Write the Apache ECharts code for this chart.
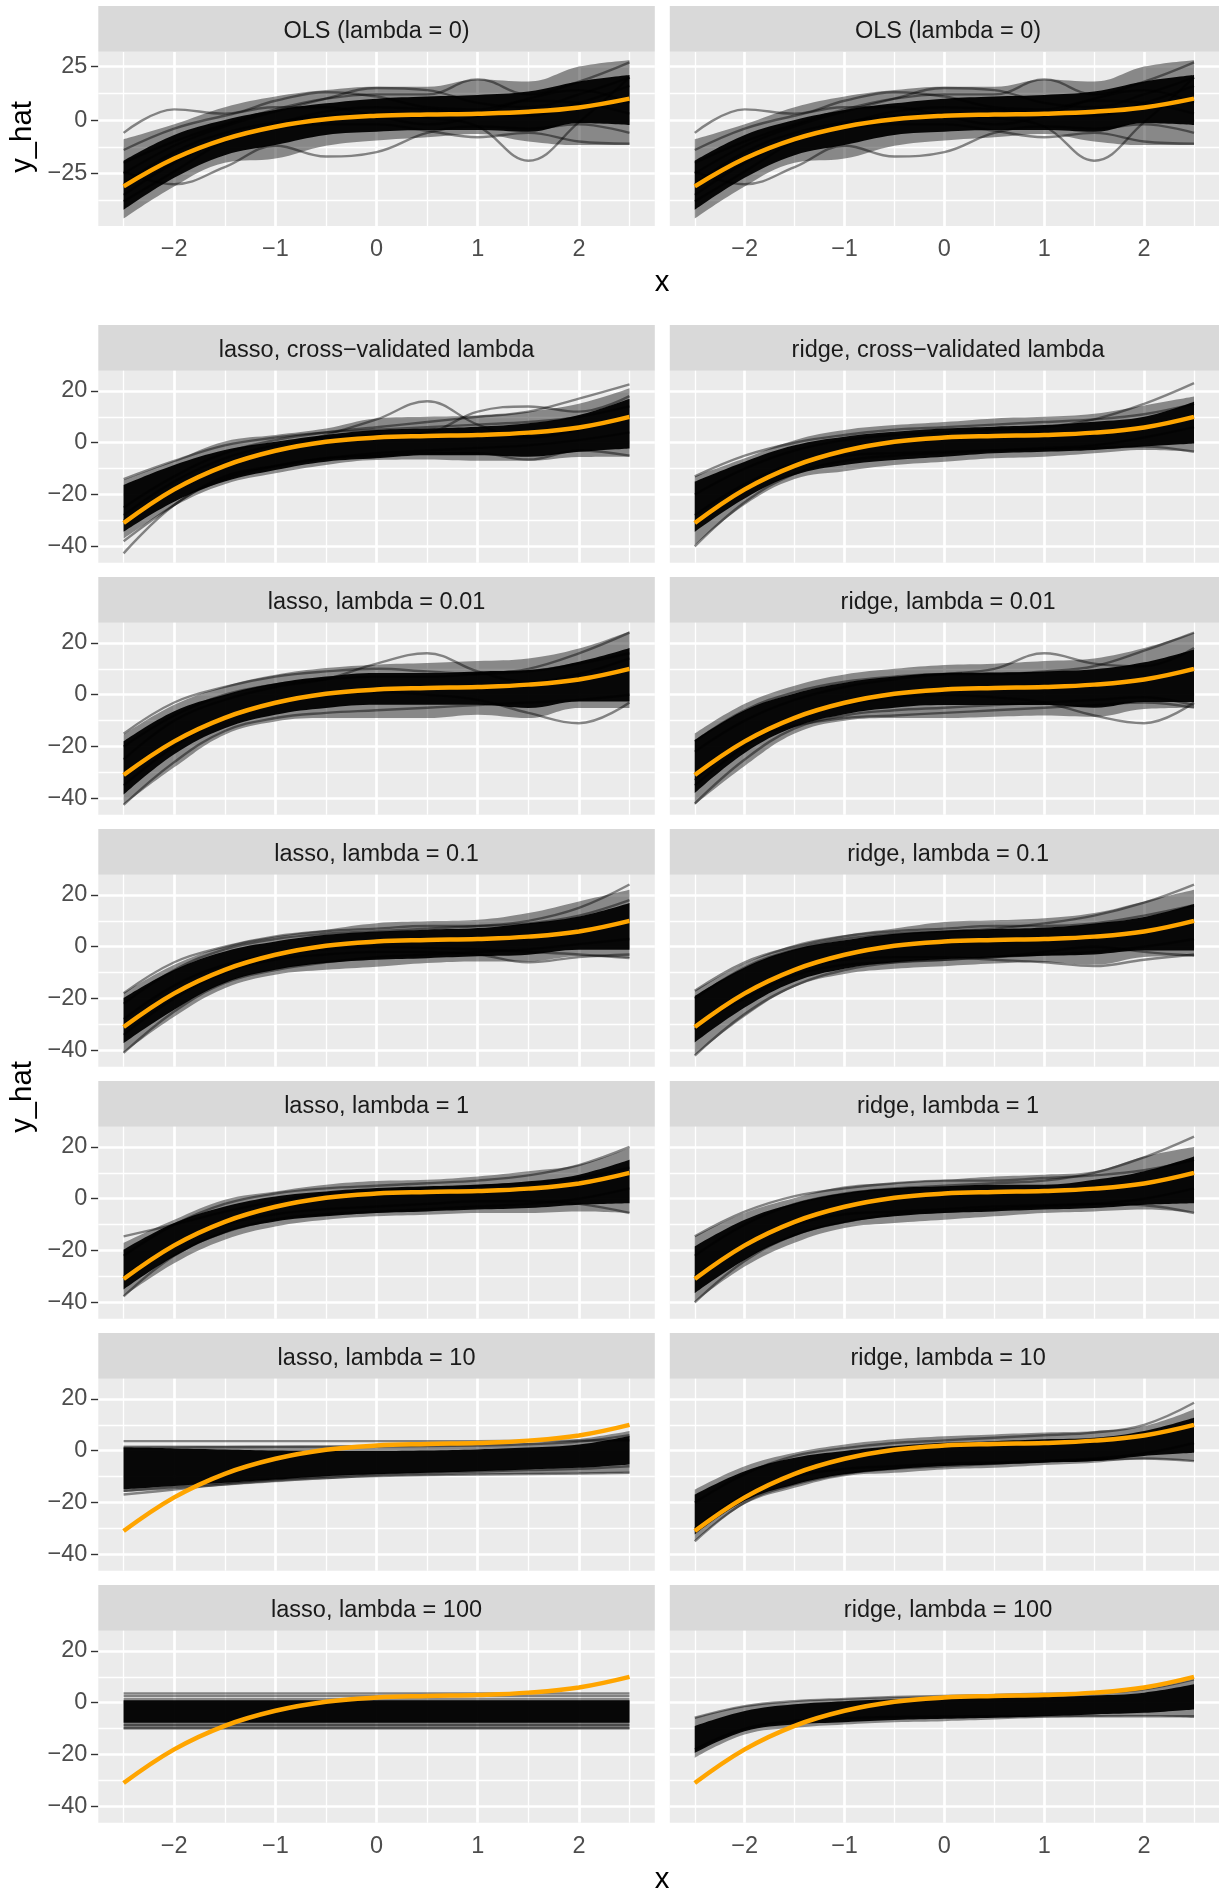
<!DOCTYPE html>
<html>
<head>
<meta charset="utf-8">
<title>y_hat by penalty</title>
<script src="https://cdn.jsdelivr.net/npm/echarts@6/dist/echarts.min.js"></script>
<style>
  html, body { margin: 0; padding: 0; background: #fff; }
  #main { width: 1219px; height: 1891px; }
</style>
</head>
<body>
<div id="main"></div>
<script>
const xs = [-2.5, -2, -1.5, -1, -0.5, 0, 0.5, 1, 1.5, 2, 2.5];
// true function (orange), same in every panel
const truth = [-31, -18, -8.9, -3.1, 0.4, 2, 2.6, 3, 3.9, 5.9, 10];

// tick labels
const topTicks = [-25, 0, 25];
const topMinor = [-37.5, -12.5, 12.5];
const rowTicks = [-40, -20, 0, 20];
const rowMinor = [-30, -10, 10];

// bands are [low, high] at each x; core = solid black, outer = grey halo
// lines = single fitted curves standing out of the band
const olsCore = [[-42,-19],[-27,-7],[-16.4,0],[-11.7,4.7],[-7,7.8],[-5.5,10],[-4.7,11],[-4.7,11.7],[-5.5,13.3],[-1.5,18],[-2.3,21]];
const olsOuter = [[-46,-9],[-31,-2],[-20,6],[-18,11],[-12,14],[-9.5,15.6],[-8,15.6],[-6.5,19],[-10,18],[-11.7,25],[-11.7,28]];
const olsLines = [
  [-30, -15, -6, -1, 2, 3, 1, -3, -19, -1, 20],
  [-24, -30, -22, -12, -17, -15, -6, -3, -4, -2, -6],
  [-6, 5, 3, 9, 13, 11, 6, 5, 9, 8, 3],
  [-20, -10, -2, 5, 10, 12, 12, 19, 12, 18, 27],
  [-35, -20, -9, -4, -2, -2, -5, -8, -6, -10, -11],
  [-25, -12, -3, 4, 10, 15, 14, 8, 6, 12, 20],
  [-38, -24, -10, -2, 4, 6, 5, 3, 2, 8, 16],
  [-14, -4, 2, 6, 6, 2, -2, 2, 10, 14, 8]
];

const lassoCvCore = [[-34.4,-16.3],[-22.8,-8.6],[-15,-2.8],[-10.5,0.4],[-7.3,3],[-6,4.9],[-4.8,5.5],[-4.8,6.2],[-5.4,7.5],[-3.5,10.7],[-2.2,17]];
const lassoCvOuter = [[-37,-14.4],[-24.5,-7],[-16,0.5],[-11.8,3],[-8.6,5.5],[-6.7,9.4],[-6.5,10],[-7,10.5],[-7,12],[-5.5,15],[-5.4,21]];
const lassoCvLines = [
  [-30, -18, -8, -3, 3, 9, 16, 7, 2, 5, 10],
  [-25, -13, -4, 1, 4, 6, 8, 10, 12, 17, 22.5],
  [-38, -24, -13, -9, -6, -5, -4, -4, -6.5, -3, -5],
  [-42.7, -24, -14, -9, -6, -4, -3, -2, -1, 1, 4],
  [-14, -7, -1, 2, 4, 5, 6, 7, 8, 10, 14],
  [-28, -15, -6, -1, 2, 3, 4, 12, 14, 12, 18]
];

const ridgeCvCore = [[-34.4,-15],[-21.5,-7.3],[-12.5,-1],[-8.6,2.3],[-6.7,4.2],[-5.4,5.5],[-4.1,6.2],[-3.5,6.8],[-2.8,8.1],[-1.5,10],[-0.3,15.8]];
const ridgeCvOuter = [[-39.5,-13],[-24,-6],[-14,1],[-11,4.9],[-8.6,6.8],[-7.3,8],[-6,9.4],[-5.4,10],[-4.1,11.2],[-2.8,14.4],[-3.5,17.8]];
const ridgeCvLines = [
  [-20, -10, -3, 1, 3, 4, 5, 6, 9, 15, 23],
  [-28, -16, -8, -5, -4, -3.5, -3, -2.5, -2, -1.5, -3.5],
  [-40, -23, -12, -7, -5, -4, -3, -2, -1, 2, 6],
  [-13, -5, 0, 3, 5, 6, 7, 8, 9, 11, 15]
];

const lasso001Core = [[-38.6,-18],[-23,-6.4],[-12.9,0],[-7.7,4.4],[-5.1,7],[-3.9,8.4],[-3.9,8.4],[-3.9,9],[-5.1,9.5],[-2.6,12.7],[-2.6,18]];
const lasso001Outer = [[-42.5,-15.4],[-28,-3.9],[-15.4,3.2],[-10.3,7.7],[-9,10.3],[-9,11.6],[-9,12.2],[-7.7,13],[-9,14],[-5.1,17.8],[-5.1,24.5]];
const lasso001Lines = [
  [-25, -10, -2, 3, 6, 12, 16, 9, 5, 8, 14],
  [-35, -20, -9, -3, 0, 1, 0, -2, -7, -11, -3],
  [-20, -8, 0, 4, 6, 7, 7, 8, 10, 16, 24],
  [-42.5, -26, -14, -9, -7, -6, -5, -4, -3, -2, 0],
  [-15, -3, 3, 7, 9, 10, 9, 8, 9, 12, 16]
];

const ridge001Core = [[-38,-17.5],[-22.5,-6],[-12.5,0.5],[-7.5,4.6],[-5,7],[-4,8.4],[-4,8.6],[-4,9],[-5,9.8],[-2.8,12.5],[-2.8,17.5]];
const ridge001Outer = [[-42.5,-15],[-27.5,-3.5],[-15,3.5],[-10,7.8],[-9,10],[-9,11.5],[-8.5,12],[-8,13],[-8.5,14],[-5.5,18],[-5,24]];
const ridge001Lines = [
  [-22, -10, -2, 3, 6, 8, 10, 16, 12, 11, 18],
  [-35, -20, -9, -4, -1, 0, -1, -3, -8, -11, -3],
  [-18, -6, 1, 5, 7, 8, 8, 9, 11, 17, 24],
  [-42, -25, -13, -8, -6, -5, -4, -3, -2, -1, -4],
  [-33, -18, -12, -9, -8, -7, -6, -5, -4, -3, -5]
];

const lasso01Core = [[-37.2,-19.8],[-24.3,-8.9],[-14,-1.8],[-8.9,2],[-6.3,4.6],[-5,5.9],[-4.4,6.6],[-3.7,7.2],[-3.1,9.1],[-1.2,11.7],[-1.2,16.9]];
const lasso01Outer = [[-41,-17.9],[-27,-7],[-16,0.1],[-10.8,4],[-8.9,6.6],[-7.7,9.1],[-6.3,9.8],[-5.7,10.4],[-5.7,13],[-3.7,17.5],[-4.4,22]];
const lasso01Lines = [
  [-22, -9, -1, 3, 5, 6, 7, 8, 10, 15, 24],
  [-34, -20, -10, -5, -3, -2, -2, -3, -6, -4, -3],
  [-41, -25, -14, -9, -6, -4, -3, -2, -1, 1, 3],
  [-28, -15, -7, -3, -1, 0, -0.5, -1, -2, -3, -4.4],
  [-17.9, -6, 0, 4, 6, 7, 8, 8, 9, 12, 18]
];

const ridge01Core = [[-37,-19],[-23.5,-8],[-13.5,-1],[-8.5,2.5],[-6,5],[-4.8,6.2],[-4.2,6.8],[-3.5,7.4],[-3,9],[-1.5,11.5],[-1.5,16.5]];
const ridge01Outer = [[-42,-17],[-27,-6.5],[-15.5,0.8],[-10.5,4.5],[-8.5,7],[-7.5,9.5],[-6.5,10.2],[-6,11],[-7,13],[-4,17.5],[-3.5,22]];
const ridge01Lines = [
  [-20, -8, -1, 3, 5, 6, 7, 9, 12, 17, 24],
  [-32, -18, -9, -5, -4, -4, -5, -6, -7.5, -5, -3],
  [-42, -26, -15, -9, -6, -5, -4, -3, -2, 0, 3],
  [-17, -6, 0, 4, 6, 7, 8, 8, 9, 12, 16],
  [-30, -20, -11, -7, -6, -5, -4, -2, 0, -2, -3.5]
];

const lasso1Core = [[-35,-19.7],[-22.3,-9.4],[-13.3,-3],[-8.8,0.9],[-6.8,2.8],[-5.5,4.1],[-4.9,4.8],[-4.2,5.4],[-3.6,6.7],[-2.3,9.3],[-1.7,15]];
const lasso1Outer = [[-37.7,-17],[-24.9,-8.1],[-15.8,-0.4],[-10.7,2.8],[-8.1,5.4],[-6.8,6.8],[-6.2,7.3],[-5.5,8.6],[-5.5,10.6],[-4.9,13.1],[-5.5,19.6]];
const lasso1Lines = [
  [-14.5, -10, -5, -1, 2, 3, 4, 5, 6, 8, 12],
  [-22, -10, -2, 2, 4, 5, 6, 7, 9, 13, 20],
  [-30, -18, -10, -6, -4, -3, -2, -1, -1, -2, -5.5],
  [-37.7, -22, -13, -8, -6, -5, -4, -3, -2, 0, 4]
];

const ridge1Core = [[-36.4,-18.4],[-23.6,-8.1],[-14.5,-1.7],[-9.4,2.2],[-6.8,4.1],[-5.5,4.8],[-4.9,5.4],[-4.2,5.4],[-3.6,7.3],[-2.3,10.6],[-1.7,16.3]];
const ridge1Outer = [[-40,-14.5],[-26.2,-5.5],[-17,0.3],[-11.3,4.8],[-9.4,6.2],[-8.1,7.3],[-6.8,8.6],[-5.5,9.3],[-4.9,10.6],[-4.2,16.3],[-5.5,20]];
const ridge1Lines = [
  [-22, -10, -2, 2, 4, 5, 6, 7, 10, 16, 24],
  [-30, -18, -10, -6, -5, -4, -3, -2.5, -2, -2.5, -5.5],
  [-40, -24, -14, -9, -6, -5, -4, -3, -2, 0, 4],
  [-14.5, -5, 1, 4, 6, 7, 7, 8, 9, 11, 15]
];

const lasso10Core = [[-14.9,1.2],[-13.6,0.9],[-12.4,0.5],[-11.1,0.1],[-9.8,-0.1],[-9.1,-0.1],[-8.5,0.1],[-7.9,0.5],[-7.2,1.2],[-6.6,2.4],[-5.3,5.7]];
const lasso10Outer = [[-16,2],[-14.8,2],[-13.5,2],[-12.2,2],[-11,2],[-10,2],[-9.6,2.2],[-9.2,2.5],[-9,3],[-8.8,4.5],[-8.5,7.6]];
const lasso10Lines = [
  [3.7, 3.7, 3.7, 3.7, 3.7, 3.7, 3.7, 3.7, 3.8, 3.9, 4],
  [-16.9, -15, -13, -11.5, -10.5, -9.8, -9.4, -9.2, -9, -8.8, -8.5],
  [-15.5, -14, -12.5, -11, -10, -9, -8.5, -8, -7.5, -7, -6],
  [1.2, 1.3, 1.4, 1.5, 1.6, 1.7, 1.8, 2, 2.5, 3.5, 6]
];

const ridge10Core = [[-32.3,-16.9],[-19.4,-7.9],[-13,-2.7],[-9.1,-0.1],[-7.2,1.8],[-5.9,3.1],[-5.3,3.7],[-4.6,4.4],[-4,5],[-2,7.6],[-0.8,12.7]];
const ridge10Outer = [[-34.9,-15],[-20.7,-6],[-14.3,-0.8],[-9.8,2.4],[-8.5,4.4],[-7.2,5.6],[-6.6,6.3],[-5.5,7],[-4.6,7.6],[-3.3,9.5],[-4,16]];
const ridge10Lines = [
  [-20, -9, -2, 1, 3, 4, 5, 6, 7, 10, 18.5],
  [-30, -17, -10, -7, -6, -5, -4.5, -4, -3.5, -3, -4],
  [-35, -20, -13, -9, -7, -6, -5, -4, -3, -1, 3]
];

// lasso, lambda = 100: intercept-only fits, every curve is flat
const lasso100Core = [-7.7, 1.0];
const lasso100Outer = [-10.3, 1.8];
const lasso100Levels = [3.6, 2.6, -8.6, -9.8];

const ridge100Core = [[-19.4,-9],[-11,-3.2],[-8.4,-0.6],[-7.5,0.6],[-6.7,1.3],[-6.2,1.7],[-5.8,1.9],[-5.2,2.3],[-4.5,2.8],[-3.9,3.9],[-2.6,7.1]];
const ridge100Outer = [[-21.3,-5.8],[-12.3,-1.3],[-9.7,0.6],[-8.4,1.5],[-7.5,2.2],[-7.1,2.6],[-6.5,3],[-5.8,3.5],[-5.4,3.9],[-5.2,5.2],[-5.8,9]];
const ridge100Lines = [
  [-18, -10, -7, -6, -5.5, -5.3, -5.2, -5.2, -5.2, -5.2, -5.2],
  [-5.8, -1.3, 0.6, 1.5, 2.2, 2.6, 3, 3.5, 3.9, 5.2, 9]
];

const flatBand = b => xs.map(() => b);
const flatLines = levels => levels.map(v => xs.map(() => v));

const panels = [
  { title: 'OLS (lambda = 0)', core: olsCore, outer: olsOuter, lines: olsLines, row: 0, col: 0 },
  { title: 'OLS (lambda = 0)', core: olsCore, outer: olsOuter, lines: olsLines, row: 0, col: 1 },
  { title: 'lasso, cross\u2212validated lambda', core: lassoCvCore, outer: lassoCvOuter, lines: lassoCvLines, row: 1, col: 0 },
  { title: 'ridge, cross\u2212validated lambda', core: ridgeCvCore, outer: ridgeCvOuter, lines: ridgeCvLines, row: 1, col: 1 },
  { title: 'lasso, lambda = 0.01', core: lasso001Core, outer: lasso001Outer, lines: lasso001Lines, row: 2, col: 0 },
  { title: 'ridge, lambda = 0.01', core: ridge001Core, outer: ridge001Outer, lines: ridge001Lines, row: 2, col: 1 },
  { title: 'lasso, lambda = 0.1', core: lasso01Core, outer: lasso01Outer, lines: lasso01Lines, row: 3, col: 0 },
  { title: 'ridge, lambda = 0.1', core: ridge01Core, outer: ridge01Outer, lines: ridge01Lines, row: 3, col: 1 },
  { title: 'lasso, lambda = 1', core: lasso1Core, outer: lasso1Outer, lines: lasso1Lines, row: 4, col: 0 },
  { title: 'ridge, lambda = 1', core: ridge1Core, outer: ridge1Outer, lines: ridge1Lines, row: 4, col: 1 },
  { title: 'lasso, lambda = 10', core: lasso10Core, outer: lasso10Outer, lines: lasso10Lines, row: 5, col: 0 },
  { title: 'ridge, lambda = 10', core: ridge10Core, outer: ridge10Outer, lines: ridge10Lines, row: 5, col: 1 },
  { title: 'lasso, lambda = 100', core: flatBand(lasso100Core), outer: flatBand(lasso100Outer), lines: flatLines(lasso100Levels), row: 6, col: 0 },
  { title: 'ridge, lambda = 100', core: ridge100Core, outer: ridge100Outer, lines: ridge100Lines, row: 6, col: 1 }
];

// layout (pixels)
const FONT = "'Liberation Sans', Arial, Helvetica, sans-serif";
const PANEL_W = 556.5;
const COL_X = [98.3, 669.8];
const STRIP_H = 45.8;

function box(row, col) {
  if (row === 0) return { left: COL_X[col], top: 52, height: 174, stripTop: 6 };
  return { left: COL_X[col], top: 370.7 + 252 * (row - 1), height: 192, stripTop: 325 + 252 * (row - 1) };
}

const minus = v => String(v).replace('-', '\u2212');
const isWhole = v => Number.isInteger(Number(v));

const grids = [];
const xAxes = [];
const yAxes = [];
const series = [];
const graphics = [];

function gridLines(i, top) {
  const data = [];
  xs.forEach(x => data.push({ xAxis: String(x), lineStyle: { color: '#fff', width: isWhole(x) ? 2.7 : 1.35, type: 'solid' } }));
  (top ? topTicks : rowTicks).forEach(v => data.push({ yAxis: v, lineStyle: { color: '#fff', width: 2.7, type: 'solid' } }));
  (top ? topMinor : rowMinor).forEach(v => data.push({ yAxis: v, lineStyle: { color: '#fff', width: 1.35, type: 'solid' } }));
  return {
    type: 'line', xAxisIndex: i, yAxisIndex: i, data: [], silent: true,
    markLine: { silent: true, symbol: ['none', 'none'], label: { show: false }, animation: false, data }
  };
}

function band(i, pairs, color, stack) {
  const common = {
    type: 'line', xAxisIndex: i, yAxisIndex: i, stack, stackStrategy: 'all',
    smooth: 0.4, symbol: 'none', silent: true, z: 10, animation: false
  };
  return [
    { ...common, data: pairs.map(p => p[0]), lineStyle: { width: 0, opacity: 0 } },
    { ...common, data: pairs.map(p => p[1] - p[0]), lineStyle: { width: 0, opacity: 0 }, areaStyle: { color, opacity: 1 } }
  ];
}

panels.forEach((p, i) => {
  const b = box(p.row, p.col);
  const top = p.row === 0;
  const showX = p.row === 0 || p.row === 6;
  const showY = p.col === 0;
  const ticks = top ? topTicks : rowTicks;

  grids.push({ left: b.left, top: b.top, width: PANEL_W, height: b.height, show: true, backgroundColor: '#EBEBEB', borderWidth: 0 });

  xAxes.push({
    gridIndex: i, type: 'category', data: xs.map(String), boundaryGap: true,
    axisLine: { show: false }, splitLine: { show: false },
    axisTick: { show: showX, alignWithLabel: true, interval: (idx, v) => isWhole(v), length: 7.3, lineStyle: { color: '#333333', width: 1.4 } },
    axisLabel: { show: showX, interval: (idx, v) => isWhole(v), formatter: minus, color: '#4D4D4D', fontSize: 23.5, fontFamily: FONT, margin: 11.5 }
  });

  yAxes.push({
    gridIndex: i, type: 'value', min: top ? -49.5 : -46.3, max: top ? 31.8 : 27.8,
    axisLine: { show: false }, splitLine: { show: false },
    axisTick: { show: showY, customValues: ticks, length: 7.3, lineStyle: { color: '#333333', width: 1.4 } },
    axisLabel: { show: showY, customValues: ticks, formatter: minus, color: '#4D4D4D', fontSize: 23.5, fontFamily: FONT, margin: 11, padding: [5, 0, 0, 0] }
  });

  series.push(gridLines(i, top));
  series.push(...band(i, p.outer, 'rgba(0,0,0,0.42)', 'o' + i));
  series.push(...band(i, p.core, 'rgba(0,0,0,0.95)', 'c' + i));
  p.lines.forEach(l => series.push({
    type: 'line', xAxisIndex: i, yAxisIndex: i, data: l, smooth: 0.4, symbol: 'none', silent: true, z: 10,
    lineStyle: { color: 'rgba(0,0,0,0.45)', width: 2.4 }
  }));
  series.push({
    type: 'line', xAxisIndex: i, yAxisIndex: i, data: truth, smooth: 0.4, symbol: 'none', silent: true, z: 15,
    lineStyle: { color: '#FFA500', width: 4.5 }
  });

  // strip
  graphics.push({ type: 'rect', shape: { x: b.left, y: b.stripTop, width: PANEL_W, height: STRIP_H }, style: { fill: '#D9D9D9' }, silent: true });
  graphics.push({
    type: 'text', x: b.left + PANEL_W / 2, y: b.stripTop + STRIP_H / 2 + 2.4, silent: true,
    style: { text: p.title, fill: '#1A1A1A', fontSize: 23.5, fontFamily: FONT, align: 'center', verticalAlign: 'middle' }
  });
});

// axis titles
[[23, 137], [23, 1097]].forEach(([x, y]) => graphics.push({
  type: 'text', x, y, rotation: Math.PI / 2, silent: true,
  style: { text: 'y_hat', fill: '#000', fontSize: 29.3, fontFamily: FONT, align: 'center', verticalAlign: 'middle' }
}));
[[662, 283], [662, 1880]].forEach(([x, y]) => graphics.push({
  type: 'text', x, y, silent: true,
  style: { text: 'x', fill: '#000', fontSize: 29.3, fontFamily: FONT, align: 'center', verticalAlign: 'middle' }
}));

const chart = echarts.init(document.getElementById('main'));
chart.setOption({
  animation: false,
  backgroundColor: '#fff',
  grid: grids,
  xAxis: xAxes,
  yAxis: yAxes,
  series,
  graphic: graphics
});
</script>
</body>
</html>
